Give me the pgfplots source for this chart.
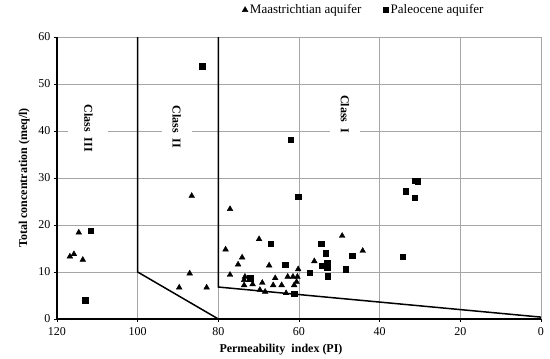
\documentclass[border=0pt]{standalone}
\usepackage{pgfplots}
\pgfplotsset{compat=1.18}
\usepackage{fontspec}
\setmainfont{Liberation Serif}

\begin{document}
\begin{tikzpicture}[x=1pt,y=1pt]
\path[use as bounding box] (0,0) rectangle (550,359);
\begin{axis}[
  at={(57pt,40pt)}, anchor=south west,
  scale only axis, width=484pt, height=282pt,
  xmin=0, xmax=120, ymin=0, ymax=60, x dir=reverse,
  xtick={0,20,...,120}, ytick={0,10,...,60},
  axis x line*=bottom, axis y line*=left,
  axis line style={black, line width=1.2pt, -},
  grid=major, major grid style={black!35, line width=0.7pt},
  tick align=outside, major tick length=3pt, tick style={black, line width=0.8pt},
  /pgf/number format/assume math mode=true,
  ticklabel style={font=\fontsize{12}{13}\selectfont},
  xticklabel style={yshift=-2pt},
  ylabel style={yshift=2pt},
  xlabel={\textbf{Permeability\ \ index (PI)}},
  ylabel={\textbf{Total concentration (meq/l)}},
  label style={font=\fontsize{12}{13}\selectfont},
  xlabel style={xshift=-18pt, yshift=-2pt},
  legend style={at={(0.634,1.096)}, anchor=center, draw=none, fill=none,
    legend columns=2, font=\fontsize{13}{14}\selectfont,
    /tikz/every even column/.append style={column sep=20pt}},
  legend cell align=left,
]
\addplot[only marks, mark=triangle*, mark size=3.3pt, black] coordinates {
(114.6,18.4)(116.8,13.3)(115.8,13.8)(113.6,12.6)
(86.6,26.2)(87.1,9.7)(89.7,6.7)(82.9,6.7)
(77.1,23.4)(69.9,17.0)(78.2,14.8)(74.1,13.1)(75.1,11.6)(67.4,11.4)
(77.1,9.4)(73.4,9.0)(73.6,8.3)(71.5,7.4)(73.6,7.2)(69.1,7.7)
(69.7,6.2)(68.4,5.8)(66.4,7.2)(65.9,8.7)(64.3,7.2)(63.2,5.5)
(62.8,9.0)(61.5,9.0)(60.2,10.6)(60.4,9.0)(60.6,7.9)(61.2,7.2)
(56.2,12.3)(49.3,17.7)(44.2,14.5)
};
\addlegendentry{Maastrichtian aquifer}
\addplot[only marks, mark=square*, mark size=2.6pt, black] coordinates {
(111.6,18.8)(113.0,4.0)(84.0,53.8)(62.1,38.2)(60.2,26.0)(67.0,16.1)
(63.4,11.6)(72.1,8.7)(61.2,5.3)(57.4,9.9)(54.5,16.0)(53.4,14.0)
(46.8,13.4)(53.0,11.9)(54.3,11.4)(53.0,11.0)(48.5,10.6)(52.9,9.1)
(31.2,29.4)(30.6,29.3)(33.6,27.2)(31.4,25.8)(34.3,13.3)
};
\addlegendentry{Paleocene aquifer}
\addplot[black, line width=1.5pt, no marks, forget plot] coordinates {(100,60)(100,10)(80,0)};
\addplot[black, line width=1.5pt, no marks, forget plot] coordinates {(80,60)(80,6.8)(0,0.4)};
\node[rotate=-90, fill=white, font=\bfseries\fontsize{12}{13}\selectfont, minimum height=40pt, inner xsep=1pt] at (axis cs:112.2,40.6) {Class\ \ III};
\node[rotate=-90, fill=white, font=\bfseries\fontsize{12}{13}\selectfont, minimum height=30pt, inner xsep=1pt] at (axis cs:90.3,40.9) {Class\ \ II};
\node[rotate=-90, fill=white, font=\bfseries\fontsize{12}{13}\selectfont, minimum height=30pt, inner xsep=1pt] at (axis cs:48.6,43.6) {Class\ \ I};
\end{axis}
\end{tikzpicture}
\end{document}
